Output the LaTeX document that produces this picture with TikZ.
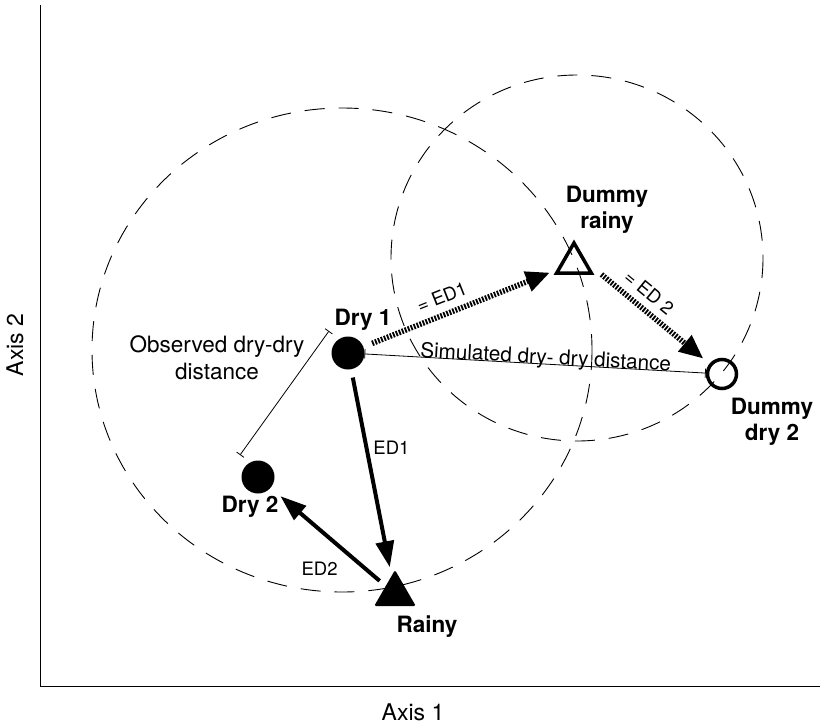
\documentclass[tikz,border=0pt]{standalone}
\usepackage{fontspec}
\setmainfont{TeX Gyre Heros}
\usetikzlibrary{arrows.meta,shapes.geometric}

\begin{document}
\begin{tikzpicture}[x=1pt,y=-1pt,
  lbl/.style={font=\fontsize{22.5}{27}\selectfont,align=center,inner sep=0pt},
  ptlbl/.style={font=\bfseries\fontsize{22.5}{26}\selectfont,align=center,inner sep=0pt},
  edlbl/.style={font=\fontsize{18.5}{20}\selectfont,inner sep=2pt},
  drydot/.style={circle,fill=black,minimum size=33pt,inner sep=0pt,outer sep=0pt},
  raintri/.style={regular polygon,regular polygon sides=3,fill=black,minimum size=48pt,inner sep=0pt,outer sep=0pt,rounded corners=1.5pt},
  hollowtri/.style={regular polygon,regular polygon sides=3,draw,line width=3.5pt,minimum size=40pt,inner sep=0pt},
  hollowdot/.style={circle,draw,line width=3.5pt,minimum size=29pt,inner sep=0pt},
  distcircle/.style={line width=0.9pt,dash pattern=on 20pt off 14pt},
  edarrow/.style={line width=4pt,-{Triangle[length=26pt,width=18pt]}},
  dummyarrow/.style={line width=5.5pt,dash pattern=on 1.8pt off 1.4pt,-{Triangle[length=24pt,width=20pt]}},
  measure/.style={line width=0.8pt,{Bar[width=9pt,line width=0.8pt]}-{Bar[width=9pt,line width=0.8pt]}}
]
\useasboundingbox (0,0) rectangle (825,726);
% axes
\draw[line width=0.8pt] (40,5) -- (40,686) -- (820,686);
\node[lbl,font=\fontsize{23}{27}\selectfont] (xlabel) at (413,712) {Axis 1};
\node[lbl,font=\fontsize{23}{27}\selectfont,rotate=90] (ylabel) at (15,345) {Axis 2};
% distance circles
\draw[distcircle] (342,350) ellipse [x radius=250, y radius=242];
\draw[distcircle] (577,258) ellipse [x radius=186, y radius=183];
% samples
\node[drydot] (dry1) at (348,353) {};
\node[drydot] (dry2) at (258,477) {};
\node[raintri] (rainy) at (395,594) {};
\node[hollowtri] (drain) at (574,263) {};
\node[hollowdot] (ddry2) at (722,374) {};
\node[ptlbl] (dry1lbl) at (363,320) {Dry 1};
\node[ptlbl] (dry2lbl) at (250,507) {Dry 2};
\node[ptlbl] (rainylbl) at (427,627) {Rainy};
\node[ptlbl] (drainlbl) at (607,210) {Dummy\\rainy};
\node[ptlbl] (ddry2lbl) at (772,422) {Dummy\\dry 2};
% observed distances
\draw[edarrow,shorten <=8.5pt,shorten >=9pt] (dry1) -- node[edlbl,right=3pt,pos=0.38] {ED1} (rainy);
\draw[edarrow,shorten <=8pt,shorten >=13pt] (rainy) -- node[edlbl,below left=5pt,pos=0.34] {ED2} (dry2);
\coordinate (obsA) at (329,331);
\coordinate (obsB) at (240,455);
\draw[measure] (obsA) -- (obsB);
\node[lbl] (obslbl) at (217,358) {Observed dry-dry\\distance};
% simulated distances
\draw[dummyarrow,shorten <=9.5pt,shorten >=7pt] (dry1) -- node[edlbl,sloped,above=6pt,pos=0.44] {= ED1} (drain);
\draw[dummyarrow,shorten <=18pt,shorten >=8pt] (drain.east) -- node[edlbl,sloped,above=5pt,pos=0.42] {= ED 2} (ddry2);
\draw[measure] (dry1) -- node[lbl,font=\fontsize{20.7}{25}\selectfont,sloped,anchor=base,pos=0.53] {Simulated dry- dry distance} (ddry2);
\end{tikzpicture}
\end{document}
